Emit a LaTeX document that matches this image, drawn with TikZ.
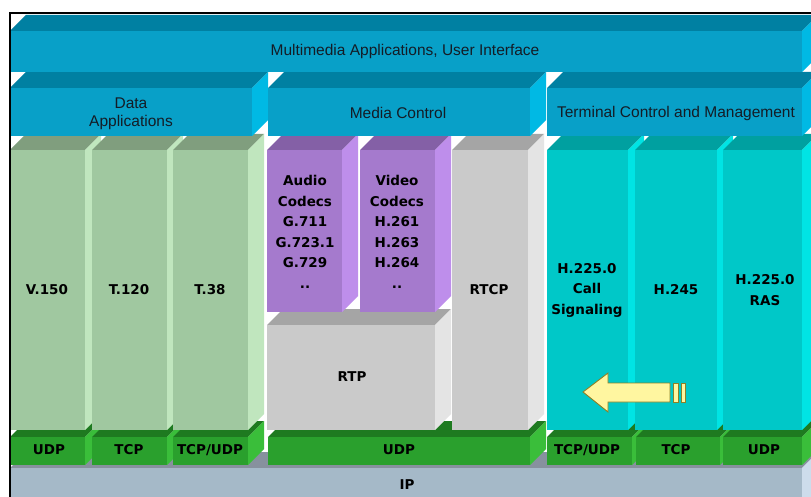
\documentclass[tikz,border=0pt]{standalone}
\usepackage{fontspec}
\setmainfont{Liberation Sans}
\newfontfamily\vfont{DejaVu Sans}
\definecolor{blueF}{RGB}{8,160,200}
\definecolor{blueT}{RGB}{0,128,162}
\definecolor{blueS}{RGB}{0,185,228}
\definecolor{grnF}{RGB}{160,200,160}
\definecolor{grnT}{RGB}{128,158,126}
\definecolor{grnS}{RGB}{192,230,190}
\definecolor{purF}{RGB}{165,122,205}
\definecolor{purT}{RGB}{132,96,166}
\definecolor{purS}{RGB}{190,142,235}
\definecolor{gryF}{RGB}{202,202,202}
\definecolor{gryT}{RGB}{165,165,165}
\definecolor{gryS}{RGB}{228,228,228}
\definecolor{cyaF}{RGB}{0,200,200}
\definecolor{cyaT}{RGB}{0,160,160}
\definecolor{cyaS}{RGB}{0,228,228}
\definecolor{udpF}{RGB}{42,160,45}
\definecolor{udpT}{RGB}{30,122,32}
\definecolor{udpS}{RGB}{58,190,58}
\definecolor{ipF}{RGB}{165,185,200}
\definecolor{ipT}{RGB}{135,145,158}
\definecolor{ipS}{RGB}{205,220,235}
\definecolor{txtC}{RGB}{20,28,38}
\definecolor{arrF}{RGB}{255,246,160}
\definecolor{arrD}{RGB}{140,128,40}
% block: x1,y1,x2,y2 (front face), front, top, side colours
\newcommand{\blk}[7]{%
  \fill[#6] (#1,#2) -- (#1+16,#2-16) -- (#3+16,#2-16) -- (#3,#2) -- cycle;
  \fill[#7] (#3,#2) -- (#3+16,#2-16) -- (#3+16,#4-16) -- (#3,#4) -- cycle;
  \fill[#5] (#1,#2) rectangle (#3,#4);}
\tikzset{
  hdr/.style={font=\fontsize{15.5}{18}\selectfont, text=txtC, inner sep=0pt, align=center},
  lab/.style={font=\vfont\bfseries\fontsize{13.5}{20.5}\selectfont, text=black, inner sep=0pt, align=center},
  arrowshape/.style={fill=arrF, draw=arrD, line width=0.9pt, line join=miter}
}
\begin{document}
\begin{tikzpicture}[x=1pt,y=-1pt]
\useasboundingbox (0,0) rectangle (811,497);
\fill[white] (0,0) rectangle (811,497);
\begin{scope}
\clip (0,0) rectangle (811,497);
% IP layer
\blk{10}{468}{802}{540}{ipF}{ipT}{ipS}
% transport boxes
\blk{10}{437}{85}{465}{udpF}{udpT}{udpS}
\blk{92}{437}{167}{465}{udpF}{udpT}{udpS}
\blk{173}{437}{248}{465}{udpF}{udpT}{udpS}
\blk{268}{437}{530}{465}{udpF}{udpT}{udpS}
\blk{547}{437}{632}{465}{udpF}{udpT}{udpS}
\blk{636}{437}{720}{465}{udpF}{udpT}{udpS}
\blk{723}{437}{802}{465}{udpF}{udpT}{udpS}
% data columns
\blk{10}{150}{85}{430}{grnF}{grnT}{grnS}
\blk{92}{150}{167}{430}{grnF}{grnT}{grnS}
\blk{173}{150}{248}{430}{grnF}{grnT}{grnS}
% media
\blk{267}{325}{435}{430}{gryF}{gryT}{gryS}
\blk{267}{150}{342}{312}{purF}{purT}{purS}
\blk{360}{150}{435}{312}{purF}{purT}{purS}
\blk{452}{150}{528}{430}{gryF}{gryT}{gryS}
% terminal control columns
\blk{547}{150}{628}{430}{cyaF}{cyaT}{cyaS}
\blk{635}{150}{717}{430}{cyaF}{cyaT}{cyaS}
\blk{723}{150}{802}{430}{cyaF}{cyaT}{cyaS}
% second row
\blk{10}{88}{252}{136}{blueF}{blueT}{blueS}
\blk{268}{88}{530}{136}{blueF}{blueT}{blueS}
\blk{547}{88}{802}{136}{blueF}{blueT}{blueS}
% top row
\blk{10}{31}{802}{72}{blueF}{blueT}{blueS}
\end{scope}
% frame
\draw[black, line width=2pt] (9.5,497) -- (9.5,13) -- (811,13);
% arrow
\draw[arrowshape] (583,392) -- (608,373) -- (608,383) -- (670,383) -- (670,402) -- (608,402) -- (608,412) -- cycle;
\draw[arrowshape] (673,383) rectangle (678,402);
\draw[arrowshape] (681,383) rectangle (685,402);
% header texts
\node[hdr] (mm) at (405,51) {Multimedia Applications, User Interface};
\node[hdr] (da) at (131,114) {Data\\Applications};
\node[hdr] (mc) at (398,113) {Media Control};
\node[hdr] (tc) at (676,113) {Terminal Control and Management};
% column texts
\node[lab] (v150) at (47,290) {V.150};
\node[lab] (t120) at (129,290) {T.120};
\node[lab] (t38) at (210,290) {T.38};
\node[lab] (aud) at (305,232) {Audio\\Codecs\\G.711\\G.723.1\\G.729\\..};
\node[lab] (vid) at (397,232) {Video\\Codecs\\H.261\\H.263\\H.264\\..};
\node[lab] (rtcp) at (489,290) {RTCP};
\node[lab] (rtp) at (352,377) {RTP};
\node[lab] (h225) at (587,290) {H.225.0\\Call\\Signaling};
\node[lab] (h245) at (676,290) {H.245};
\node[lab] (ras) at (765,290) {H.225.0\\RAS};
% transport texts
\node[lab] (u1) at (49,450) {UDP};
\node[lab] (t1) at (129,450) {TCP};
\node[lab] (tu1) at (210,450) {TCP/UDP};
\node[lab] (u2) at (399,450) {UDP};
\node[lab] (tu2) at (587,450) {TCP/UDP};
\node[lab] (t2) at (676,450) {TCP};
\node[lab] (u3) at (764,450) {UDP};
\node[lab] (ip) at (407,485) {IP};
\end{tikzpicture}
\end{document}
